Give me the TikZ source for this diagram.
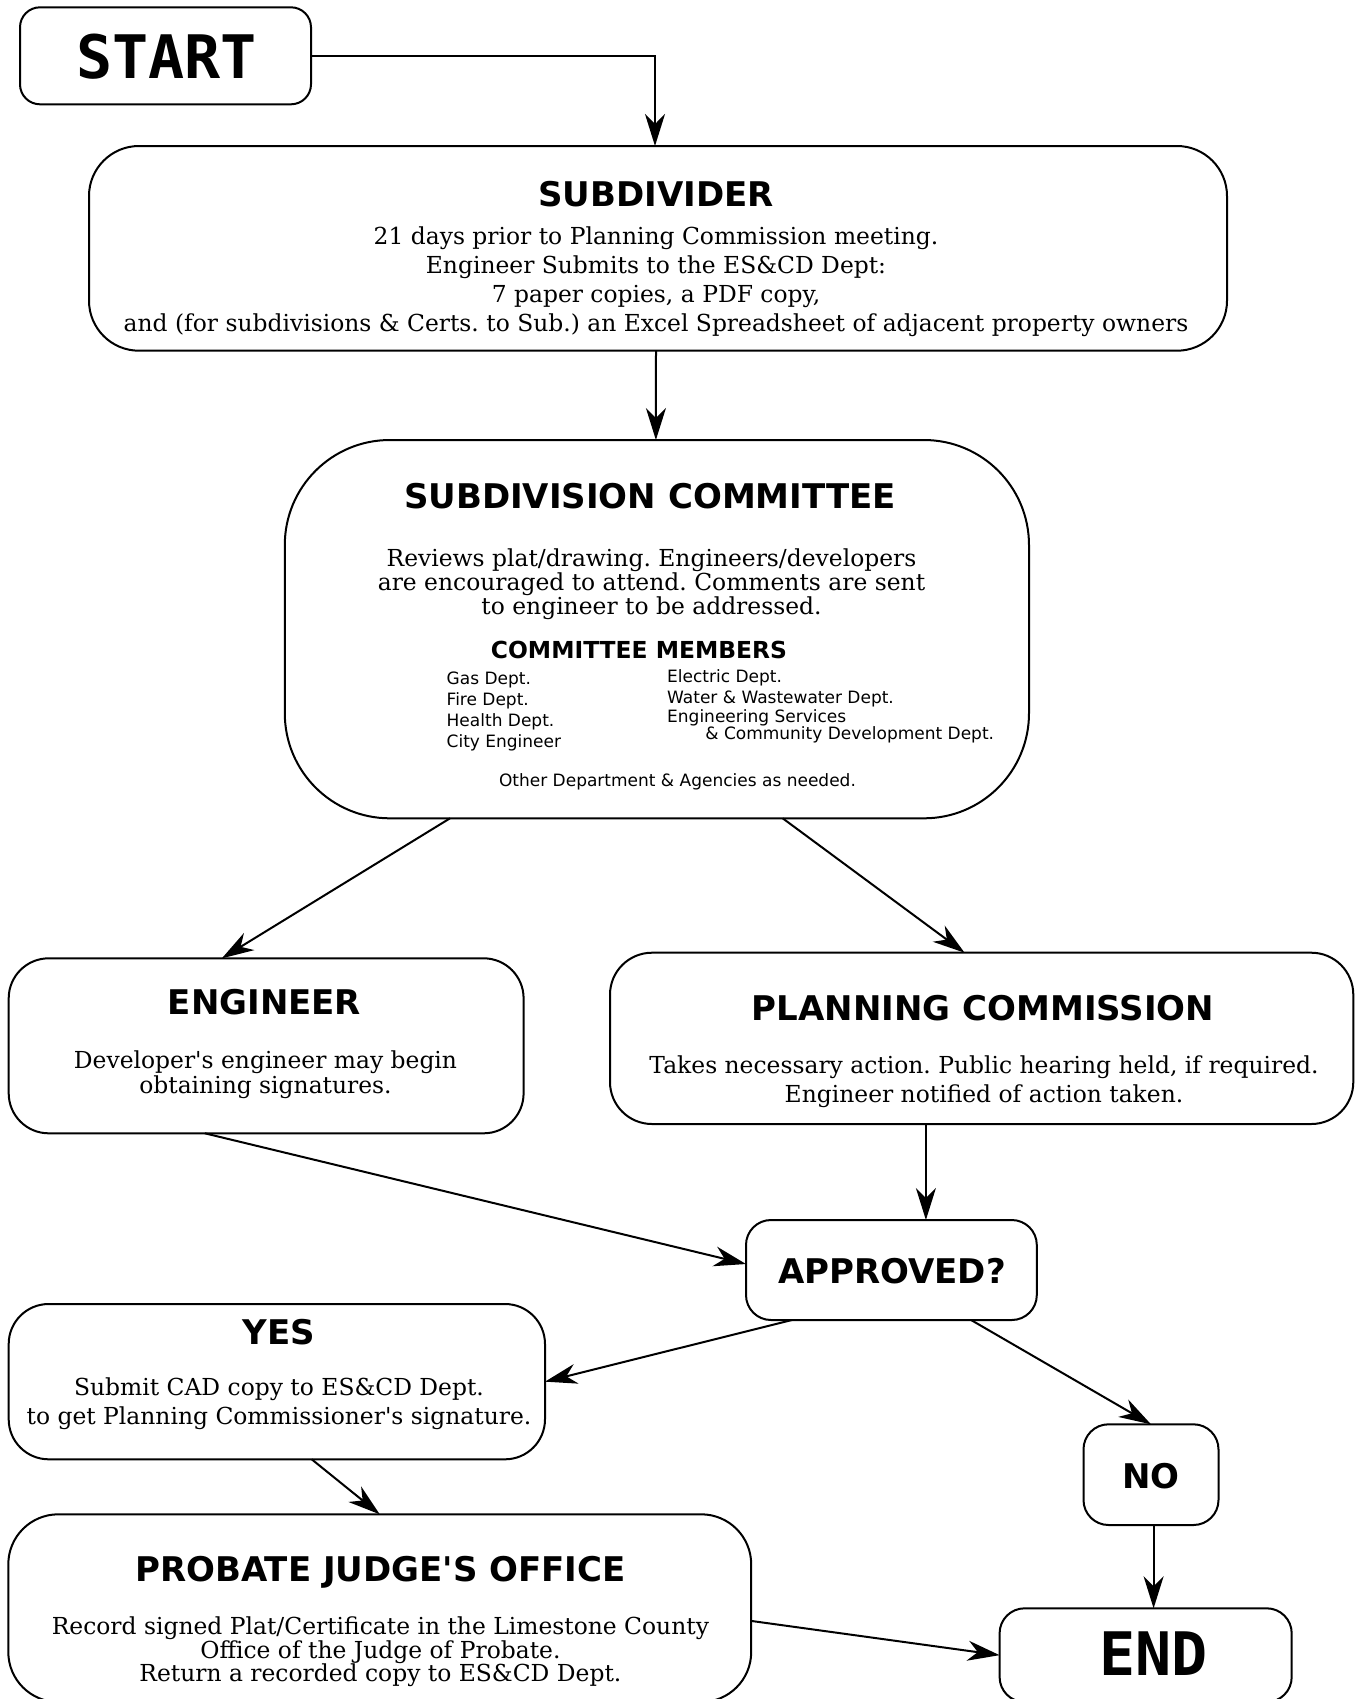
\documentclass[tikz,border=0pt]{standalone}
\usepackage{fontspec}
\setmainfont{DejaVu Serif}
\newfontfamily\bdfont{DejaVu Serif}
\newfontfamily\hdfont{DejaVu Sans}
\newfontfamily\mnfont{DejaVu Sans Mono}
\usetikzlibrary{arrows.meta,calc}
\tikzset{
  box/.style={draw, line width=1pt, inner sep=0pt, outer sep=0pt},
  ar/.style={-{Stealth[length=16pt,width=10pt,inset=5pt]}, line width=1pt},
  ttl/.style={font=\hdfont\bfseries\fontsize{17}{20}\selectfont, anchor=base, inner sep=0pt},
  big/.style={font=\mnfont\bfseries\fontsize{30}{34}\selectfont, anchor=base, inner sep=0pt},
  sub/.style={font=\hdfont\bfseries\fontsize{11.7}{14}\selectfont, anchor=base, inner sep=0pt},
  bdy/.style={font=\bdfont\frenchspacing\fontsize{11.7}{14}\selectfont, anchor=base, inner sep=0pt},
  mem/.style={font=\hdfont\fontsize{8.5}{10}\selectfont, anchor=base west, inner sep=0pt},
  memc/.style={font=\hdfont\fontsize{8.5}{10}\selectfont, anchor=base, inner sep=0pt}
}
\newcommand\mkbox[6]{%
  \pgfmathsetmacro\mybw{(#4-#2)*0.5}%
  \pgfmathsetmacro\mybh{(#5-#3)*0.5}%
  \pgfmathsetmacro\mybr{#6*0.5}%
  \node[box, rounded corners=\mybr pt, minimum width=\mybw pt, minimum height=\mybh pt] (#1) at ({(#2+#4)/2},{(#3+#5)/2}) {};}
\begin{document}
\begin{tikzpicture}[x=0.5pt,y=-0.5pt]
\clip (0,0) rectangle (1357,1699);
\fill[white] (0,0) rectangle (1357,1699);
% boxes
\mkbox{start}{20}{7.3}{311}{104.3}{20}
\mkbox{sub}{89}{146}{1227}{350.7}{50}
\mkbox{com}{284.8}{440}{1029}{818.3}{105}
\mkbox{eng}{8.7}{958.3}{523.6}{1133.3}{40}
\mkbox{pc}{610}{952.7}{1353.3}{1124}{42}
\mkbox{app}{746}{1220}{1036.8}{1320}{25}
\mkbox{yes}{8.7}{1304}{545}{1459.3}{40}
\mkbox{no}{1083.5}{1424.3}{1218.5}{1525}{25}
\mkbox{pro}{8.3}{1514.3}{751.2}{1702}{50}
\mkbox{end}{999.6}{1608.3}{1291.7}{1702}{25}
% texts
\node[big] (tStart) at (166.4,78) {START};
\node[big] (tEnd) at (1153.8,1675) {END};
\node[ttl] (tSub) at (656,206) {SUBDIVIDER};
\node[bdy] (sub1) at (656,244) {21 days prior to Planning Commission meeting.};
\node[bdy] (sub2) at (656,273) {Engineer Submits to the ES\&CD Dept:};
\node[bdy] (sub3) at (656,302) {7 paper copies, a PDF copy,};
\node[bdy] (sub4) at (656,331) {and (for subdivisions \& Certs. to Sub.) an Excel Spreadsheet of adjacent property owners};
\node[ttl] (tCom) at (650,508.5) {SUBDIVISION COMMITTEE};
\node[bdy] (com1) at (651.5,566.7) {Reviews plat/drawing. Engineers/developers};
\node[bdy] (com2) at (651.5,590) {are encouraged to attend. Comments are sent};
\node[bdy] (com3) at (651.5,614) {to engineer to be addressed.};
\node[sub] (tMem) at (639,658.3) {COMMITTEE MEMBERS};
\node[mem] (m1) at (446.3,684) {Gas Dept.};
\node[mem] (m2) at (446.3,705) {Fire Dept.};
\node[mem] (m3) at (446.3,726) {Health Dept.};
\node[mem] (m4) at (446.3,747.3) {City Engineer};
\node[mem] (m5) at (666.8,682.3) {Electric Dept.};
\node[mem] (m6) at (666.8,703.3) {Water \& Wastewater Dept.};
\node[mem] (m7) at (666.8,722) {Engineering Services};
\node[mem] (m8) at (705,739) {\& Community Development Dept.};
\node[memc] (m9) at (677.5,786.7) {Other Department \& Agencies as needed.};
\node[ttl] (tEng) at (264.5,1014) {ENGINEER};
\node[bdy] (eng1) at (265.5,1068.3) {Developer's engineer may begin};
\node[bdy] (eng2) at (265.5,1093.3) {obtaining signatures.};
\node[ttl] (tPc) at (983,1020) {PLANNING COMMISSION};
\node[bdy] (pc1) at (984,1073.3) {Takes necessary action. Public hearing held, if required.};
\node[bdy] (pc2) at (984,1102.3) {Engineer notified of action taken.};
\node[ttl] (tApp) at (892,1283.3) {APPROVED?};
\node[ttl] (tYes) at (278.6,1344.3) {YES};
\node[bdy] (yes1) at (279,1395) {Submit CAD copy to ES\&CD Dept.};
\node[bdy] (yes2) at (279,1424) {to get Planning Commissioner's signature.};
\node[ttl] (tNo) at (1151,1488.3) {NO};
\node[ttl] (tPro) at (380.5,1581.7) {PROBATE JUDGE'S OFFICE};
\node[bdy] (pro1) at (380.4,1634.3) {Record signed Plat/Certificate in the Limestone County};
\node[bdy] (pro2) at (380.4,1658.3) {Office of the Judge of Probate.};
\node[bdy] (pro3) at (380.4,1681) {Return a recorded copy to ES\&CD Dept.};
% connectors
\draw[ar] (start.east) -| ($(sub.north)+(-3,0)$);
\draw[ar] ($(sub.south)+(-2,0)$) -- ($(com.north)+(-1,0)$);
\draw[ar] ($(com.south west)!0.222!(com.south east)$) -- ($(eng.north west)!0.414!(eng.north east)$);
\draw[ar] ($(com.south west)!0.669!(com.south east)$) -- ($(pc.north west)!0.477!(pc.north east)$);
\coordinate (pcout) at ($(pc.south west)!0.425!(pc.south east)$);
\draw[ar] (pcout) -- (pcout |- app.north);
\draw[ar] ($(eng.south west)!0.381!(eng.south east)$) -- ($(app.north west)!0.44!(app.south west)$);
\draw[ar] ($(app.south west)!0.158!(app.south east)$) -- (yes.east);
\draw[ar] ($(app.south west)!0.774!(app.south east)$) -- (no.north);
\coordinate (noout) at ($(no.south)+(2.6,0)$);
\draw[ar] (noout) -- (noout |- end.north);
\draw[ar] ($(yes.south west)!0.565!(yes.south east)$) -- (pro.north);
\draw[ar] ($(pro.north east)!0.568!(pro.south east)$) -- (end.west);
\end{tikzpicture}
\end{document}
